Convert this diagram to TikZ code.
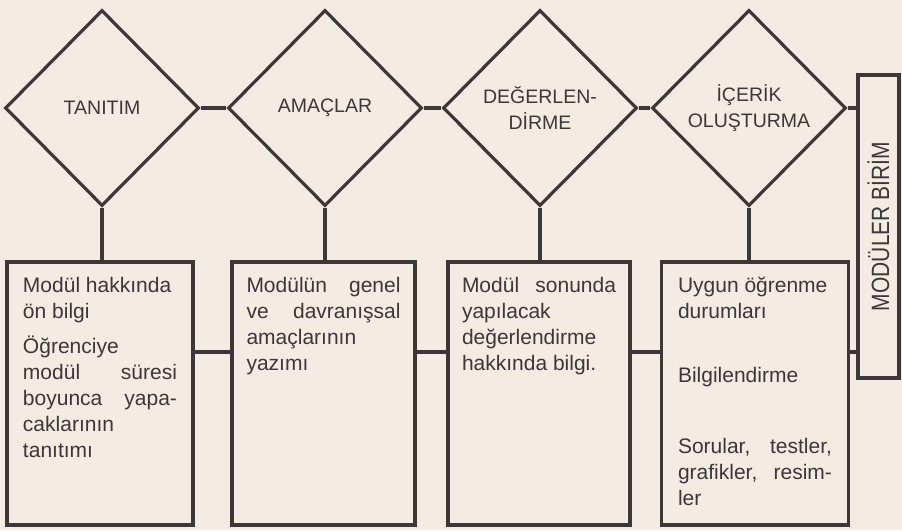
\documentclass[tikz,border=0pt]{standalone}
\usepackage{fontspec}
\setmainfont{Liberation Sans}
\usepackage{graphicx}
\usetikzlibrary{shapes.geometric, positioning, calc}
\definecolor{paper}{RGB}{244, 235, 226}
\definecolor{ink}{RGB}{62, 54, 57}
\newcommand{\boxtext}[1]{\parbox[t][239pt][t]{154pt}{\raggedright\strut #1}}

\begin{document}
\begin{tikzpicture}[
        x=1pt, y=-1pt,
        stage/.style={draw=ink, line width=3.2pt, diamond, aspect=1, minimum width=194pt, minimum height=196pt, inner sep=0pt, align=center, text=ink, font=\fontsize{19.5}{26}\selectfont},
        infobox/.style={draw=ink, line width=3.2pt, inner xsep=0pt, inner ysep=12pt, text=ink, font=\fontsize{21}{26}\selectfont},
        sidebox/.style={draw=ink, line width=3.2pt, minimum width=41pt, minimum height=303pt, inner sep=0pt, text=ink, font=\fontsize{25}{25}\selectfont},
        link/.style={draw=ink, line width=3.2pt}
    ]
        % Paper
        \fill[paper] (0,0) rectangle (902,530);
        \useasboundingbox (0,0) rectangle (902,530);

        % Stages
        \node[stage] (tanitim) at (102, 108) {TANITIM};
        \node[stage] (amaclar) at (325, 108) {AMAÇLAR};
        \node[stage] (degerlendirme) at (540, 108) {DEĞERLEN-\\DİRME};
        \node[stage] (icerik) at (749, 108) {İÇERİK\\OLUŞTURMA};

        % Contents
        \node[infobox, minimum width=186pt] (tanitimbox) at (100, 393.5) {\boxtext{%
            Modül hakkında\\
            ön bilgi\\[9pt]
            Öğrenciye\\
            modül\hfill süresi\\
            boyunca\hfill yapa-\\
            caklarının\\
            tanıtımı}};
        \node[infobox, minimum width=183pt] (amaclarbox) at (323.5, 393.5) {\boxtext{%
            Modülün\hfill genel\\
            ve\hfill davranışsal\\
            amaçlarının\\
            yazımı}};
        \node[infobox, minimum width=182pt] (degerlendirmebox) at (539, 393.5) {\boxtext{%
            Modül\hfill sonunda\\
            yapılacak\\
            değerlendirme\\
            hakkında bilgi.}};
        \node[infobox, minimum width=187pt] (icerikbox) at (755, 393.5) {\boxtext{%
            Uygun öğrenme\\
            durumları\\[38pt]
            Bilgilendirme\\[45pt]
            Sorular,\hfill testler,\\
            grafikler,\hfill resim-\\
            ler}};

        % Unit
        \node[sidebox] (modulerbirim) at (878.5, 226.5) {\rotatebox{90}{\scalebox{0.84}[1]{MODÜLER BİRİM}}};

        % Connectors
        \coordinate (boxline) at (0, 352);
        \draw[link] (tanitim.east) -- (amaclar.west);
        \draw[link] (amaclar.east) -- (degerlendirme.west);
        \draw[link] (degerlendirme.east) -- (icerik.west);
        \draw[link] (icerik.east) -- (icerik.east -| modulerbirim.west);

        \draw[link] (tanitim.south) -- (tanitim.south |- tanitimbox.north);
        \draw[link] (amaclar.south) -- (amaclar.south |- amaclarbox.north);
        \draw[link] (degerlendirme.south) -- (degerlendirme.south |- degerlendirmebox.north);
        \draw[link] (icerik.south) -- (icerik.south |- icerikbox.north);

        \draw[link] (tanitimbox.east |- boxline) -- (amaclarbox.west |- boxline);
        \draw[link] (amaclarbox.east |- boxline) -- (degerlendirmebox.west |- boxline);
        \draw[link] (degerlendirmebox.east |- boxline) -- (icerikbox.west |- boxline);
        \draw[link] (icerikbox.east |- boxline) -- (modulerbirim.west |- boxline);
    \end{tikzpicture}
\end{document}
